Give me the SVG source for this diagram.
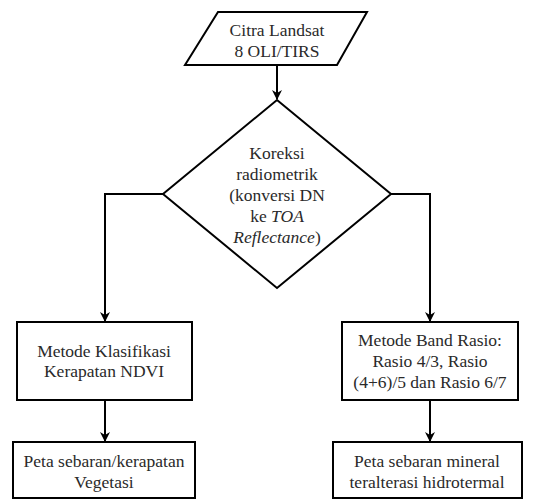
<svg xmlns="http://www.w3.org/2000/svg" width="546" height="503" viewBox="0 0 546 503">
<style>
.s{fill:#fff;stroke:#000;stroke-width:2}
.c{fill:none;stroke:#000;stroke-width:2}
.t{font-family:'Liberation Serif','DejaVu Serif',serif;font-size:17.5px;fill:#2a2a2a;text-anchor:middle}
</style>
<defs>
<marker id="a" viewBox="0 0 10 10" refX="9" refY="5" markerWidth="5" markerHeight="5" orient="auto" markerUnits="strokeWidth">
<path d="M0,0 L10,5 L0,10 L3,5 Z" fill="#000"/>
</marker>
</defs>
<rect width="546" height="503" fill="#fff"/>
<g id="connectors">
<path class="c" d="M277,65 V99" marker-end="url(#a)"/>
<path class="c" d="M163,194 H105 V321" marker-end="url(#a)"/>
<path class="c" d="M391,194 H430 V321" marker-end="url(#a)"/>
<path class="c" d="M105,400 V441" marker-end="url(#a)"/>
<path class="c" d="M430,400 V441" marker-end="url(#a)"/>
</g>
<g id="input" class="t">
<polygon class="s" points="218,12 367,12 337,65 185,65"/>
<text x="277" y="36">Citra Landsat</text>
<text x="277" y="57">8 OLI/TIRS</text>
</g>
<g id="koreksi" class="t">
<polygon class="s" points="277,100 391,194 277,288 163,194"/>
<text x="277" y="159">Koreksi</text>
<text x="277" y="180">radiometrik</text>
<text x="277" y="201">(konversi DN</text>
<text x="277" y="222">ke  <tspan font-style="italic">TOA</tspan></text>
<text x="277" y="243"><tspan font-style="italic">Reflectance</tspan>)</text>
</g>
<g id="ndvi" class="t">
<rect class="s" x="17" y="322" width="175" height="78"/>
<text x="104" y="357">Metode Klasifikasi</text>
<text x="104" y="377">Kerapatan NDVI</text>
</g>
<g id="band" class="t">
<rect class="s" x="342" y="322" width="176" height="78"/>
<text x="430" y="346">Metode Band Rasio:</text>
<text x="430" y="367">Rasio 4/3, Rasio</text>
<text x="430" y="388">(4+6)/5 dan Rasio 6/7</text>
</g>
<g id="peta-veg" class="t">
<rect class="s" x="13" y="442" width="182" height="56"/>
<text x="104" y="467">Peta sebaran/kerapatan</text>
<text x="104" y="488">Vegetasi</text>
</g>
<g id="peta-min" class="t">
<rect class="s" x="333" y="442" width="189" height="56"/>
<text x="427" y="467">Peta sebaran mineral</text>
<text x="427" y="488">teralterasi hidrotermal</text>
</g>
</svg>
